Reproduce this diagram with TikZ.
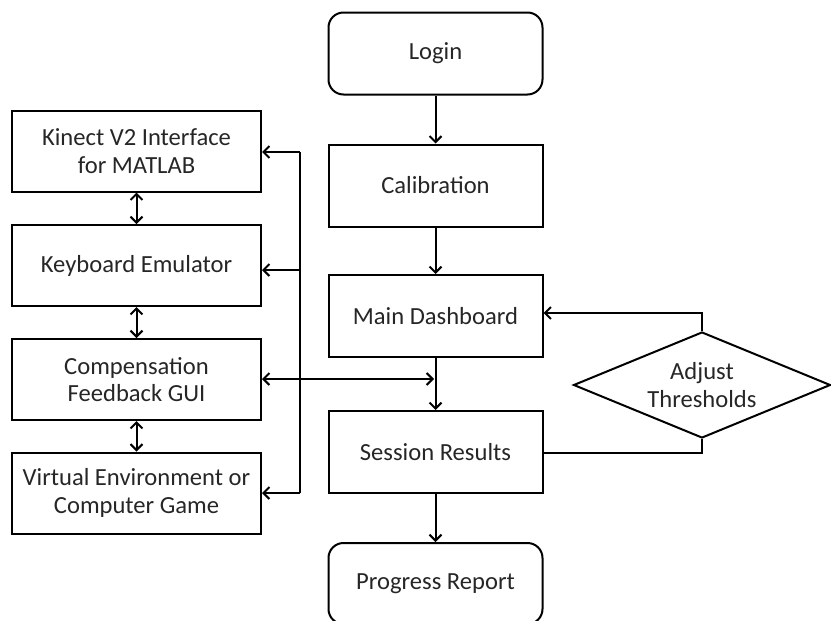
\documentclass[tikz,border=0pt]{standalone}
\usepackage{fontspec}
\setmainfont{Carlito}
\usetikzlibrary{arrows.meta,shapes.geometric}

\begin{document}
\begin{tikzpicture}[x=1pt,y=1pt,
  line width=2pt,
  tip/.tip={Straight Barb[length=6pt,width=12pt,line width=2pt]},
  label text/.style={font=\fontsize{24.6}{27.5}\selectfont,text=black!85},
  box/.style={draw,rectangle,minimum width=214pt,minimum height=82pt,
    inner sep=0pt,align=center,label text},
  rbox/.style={box,rounded corners=15pt},
  sidebox/.style={box,minimum width=249pt,minimum height=81pt},
  decision/.style={draw,diamond,aspect=2.45,minimum width=257pt,minimum height=106pt,
    inner sep=0pt,align=center,label text},
  link/.style={-tip},
  twoway/.style={tip-tip}]
\useasboundingbox (0,0) rectangle (831,-621);

% main flow
\node[rbox] (login) at (435.5,-53.5) {Login};
\node[box] (calib) at (435.5,-185.5) {Calibration};
\node[box] (dash) at (435.5,-316) {Main Dashboard};
\node[box] (results) at (435.5,-452) {Session Results};
\node[rbox,minimum height=81pt] (report) at (435.5,-583.5) {Progress Report};

% side chain
\node[sidebox] (kinect) at (136.5,-151) {Kinect V2 Interface\\for MATLAB};
\node[sidebox] (keys) at (136.5,-265.5) {Keyboard Emulator};
\node[sidebox] (gui) at (136.5,-379.5) {Compensation\\Feedback GUI};
\node[sidebox] (game) at (136.5,-493) {Virtual Environment or\\Computer Game};

% threshold decision
\node[decision] (adjust) at (702,-385) {Adjust\\Thresholds};

% trunk feeding the side chain
\coordinate (trunktop) at (300,-152);
\coordinate (trunkbot) at (300,-493);
\draw (trunktop) -- (trunkbot);
\draw[link] (trunktop) -- (kinect.east |- trunktop);
\draw[link] (300,-270) -- (keys.east |- 0,-270);
\draw[link] (trunkbot) -- (game.east |- trunkbot);

% main flow arrows
\draw[link] (login) -- (calib);
\draw[link] (calib) -- (dash);
\draw[link] (dash) -- (results);
\draw[link] (results) -- (report);

% links between side boxes
\draw[twoway] (kinect) -- (keys);
\draw[twoway] (keys) -- (gui);
\draw[twoway] (gui) -- (game);

% GUI to main column
\coordinate (guijoin) at (434,-379);
\draw[twoway] (gui.east |- guijoin) -- (guijoin);

% threshold loop
\draw[link] (adjust.north) |- (dash.east |- 0,-313);
\draw (adjust.south) |- (results.east |- 0,-453);
\end{tikzpicture}
\end{document}
